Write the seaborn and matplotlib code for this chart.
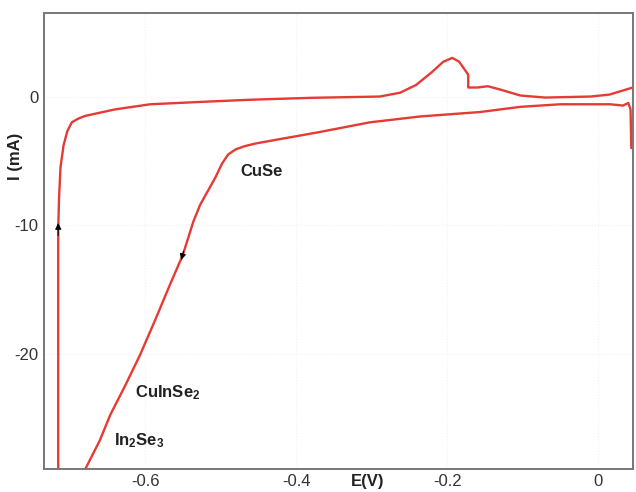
import pandas as pd
import matplotlib.pyplot as plt
import seaborn as sns

# cathodic sweep (lower branch), right -> left
E_cathodic = [0.044, 0.043, 0.040, 0.033, 0.016, -0.050, -0.103, -0.156, -0.236, -0.302,
              -0.373, -0.421, -0.454, -0.468, -0.480, -0.490, -0.498, -0.507, -0.527, -0.536, -0.550,
              -0.567, -0.587, -0.607, -0.626, -0.646, -0.660, -0.679, -0.692]
I_cathodic = [-4.0, -1.0, -0.5, -0.7, -0.6, -0.6, -0.8, -1.2, -1.55, -2.0,
              -2.8, -3.3, -3.65, -3.85, -4.1, -4.5, -5.2, -6.3, -8.4, -9.7, -12.3,
              -14.6, -17.4, -20.1, -22.4, -24.7, -26.7, -28.9, -31.0]

# anodic sweep (return branch), left -> right
E_anodic = [-0.715, -0.715, -0.715, -0.714, -0.712, -0.708, -0.703, -0.697, -0.688, -0.679, -0.640,
            -0.593, -0.520, -0.461, -0.380, -0.289, -0.262, -0.241, -0.220, -0.205,
            -0.193, -0.184, -0.172, -0.172, -0.160, -0.146, -0.130, -0.103, -0.070,
            -0.010, 0.015, 0.029, 0.046]
I_anodic = [-31.0, -20.0, -10.3, -8.0, -5.5, -3.8, -2.7, -2.0, -1.7, -1.5, -1.0,
            -0.6, -0.4, -0.25, -0.1, 0.0, 0.3, 0.9, 1.9, 2.7,
            3.0, 2.7, 1.7, 0.7, 0.7, 0.8, 0.55, 0.08, -0.08,
            0.0, 0.15, 0.4, 0.7]

x_ticks = [-0.6, -0.4, -0.2, 0]
x_tick_labels = ['-0.6', '-0.4', '-0.2', '0']
y_ticks = [0, -10, -20]
y_tick_labels = ['0', '-10', '-20']

phases = ['CuSe', 'CuInSe$_2$', 'In$_2$Se$_3$']
phase_E = [-0.474, -0.613, -0.641]
phase_I = [-5.8, -23.0, -26.7]

df = pd.DataFrame({
    'E': E_cathodic + E_anodic,
    'I': I_cathodic + I_anodic,
})

sns.set_style('white')
plt.rcParams['font.family'] = ['Liberation Sans', 'DejaVu Sans']
plt.rcParams['mathtext.fontset'] = 'custom'
plt.rcParams['mathtext.rm'] = 'Liberation Sans'
plt.rcParams['mathtext.bf'] = 'Liberation Sans:bold'
plt.rcParams['mathtext.default'] = 'bf'

fig, ax = plt.subplots(figsize=(6.36, 4.92), dpi=100)
fig.subplots_adjust(left=0.069, right=0.995, top=0.974, bottom=0.047)

sns.lineplot(data=df, x='E', y='I', sort=False, estimator=None,
             color='#e63a34', linewidth=1.7, ax=ax)

# direction arrows
ax.annotate('', xy=(-0.715, -9.6), xytext=(-0.715, -11.0),
            arrowprops=dict(arrowstyle='-|>', color='black', lw=0.8, mutation_scale=9))
ax.annotate('', xy=(-0.553, -12.9), xytext=(-0.548, -11.8),
            arrowprops=dict(arrowstyle='-|>', color='black', lw=0.8, mutation_scale=9))

for name, e, i in zip(phases, phase_E, phase_I):
    ax.text(e, i, name, fontsize=12, fontweight='bold', color='#222222',
            ha='left', va='center')

ax.set_xlim(-0.734, 0.046)
ax.set_ylim(-28.9, 6.5)
ax.set_xticks(x_ticks, labels=x_tick_labels)
ax.set_yticks(y_ticks, labels=y_tick_labels)
ax.tick_params(length=0, labelsize=12, colors='#333333', pad=4)
ax.grid(True, linestyle=':', color='#f2f2f2', linewidth=0.8)

ax.set_xlabel('E(V)', fontsize=12, fontweight='bold', color='#222222')
ax.set_ylabel('I (mA)', fontsize=12, fontweight='bold', color='#222222')
ax.xaxis.set_label_coords(0.55, -0.012)
ax.yaxis.set_label_coords(-0.035, 0.685)

for s in ax.spines.values():
    s.set_color('#777777')
    s.set_linewidth(1.4)

fig.savefig('out.png', dpi=100)
